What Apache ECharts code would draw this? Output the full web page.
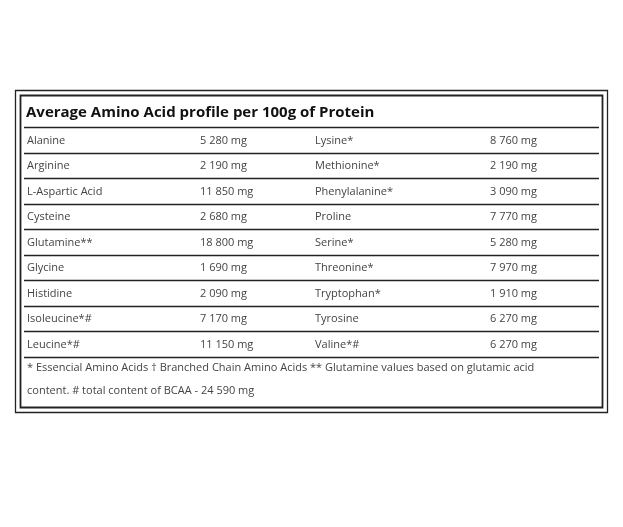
<!DOCTYPE html>
<html><head><meta charset="utf-8">
<script src="https://cdn.jsdelivr.net/npm/echarts@6/dist/echarts.min.js"></script>
<style>html,body{margin:0;background:#fff}#c{width:623px;height:527px}</style>
</head><body><div id="c"></div>
<script>
let title = "Average Amino Acid profile per 100g of Protein"
let leftNames = ["Alanine", "Arginine", "L-Aspartic Acid", "Cysteine", "Glutamine**", "Glycine", "Histidine", "Isoleucine*#", "Leucine*#"]
let leftValues = ["5 280 mg", "2 190 mg", "11 850 mg", "2 680 mg", "18 800 mg", "1 690 mg", "2 090 mg", "7 170 mg", "11 150 mg"]
let rightNames = ["Lysine*", "Methionine*", "Phenylalanine*", "Proline", "Serine*", "Threonine*", "Tryptophan*", "Tyrosine", "Valine*#"]
let rightValues = ["8 760 mg", "2 190 mg", "3 090 mg", "7 770 mg", "5 280 mg", "7 970 mg", "1 910 mg", "6 270 mg", "6 270 mg"]
let footnotes = ["* Essencial Amino Acids † Branched Chain Amino Acids ** Glutamine values based on glutamic acid", "content. # total content of BCAA - 24 590 mg"]

let font = "'Open Sans', 'Noto Sans', sans-serif"
let els = []
// borders
els.push({ type: "rect", shape: { x: 15.5, y: 90.5, width: 592, height: 322 }, style: { fill: null, stroke: "#222", lineWidth: 1.3 } })
els.push({ type: "rect", shape: { x: 20.5, y: 95.5, width: 582, height: 312 }, style: { fill: null, stroke: "#222", lineWidth: 1.8 } })
els.push({ type: "text", x: 26, y: 113, style: { text: title, font: "bold 15px " + font, fill: "#111", textVerticalAlign: "middle" } })

let rowTop = 127, rowH = 25.5
for (let i = 0; i <= leftNames.length; i++) {
  let y = Math.round(rowTop + i * rowH) + 0.5
  els.push({ type: "line", shape: { x1: 24, y1: y, x2: 599, y2: y }, style: { stroke: "#222", lineWidth: 1.3 } })
}
let cols = [[leftNames, 27], [leftValues, 200], [rightNames, 315], [rightValues, 490]]
cols.forEach(function (c) {
  c[0].forEach(function (t, i) {
    els.push({ type: "text", x: c[1], y: rowTop + i * rowH + rowH / 2 + 1, style: { text: t, font: "11px " + font, fill: "#444", textVerticalAlign: "middle" } })
  })
})
footnotes.forEach(function (t, i) {
  els.push({ type: "text", x: 27, y: 368 + i * 23, style: { text: t, font: "11px " + font, fill: "#444", textVerticalAlign: "middle" } })
})

let myChart = echarts.init(document.getElementById("c"))
myChart.setOption({ graphic: { elements: els } })
</script></body></html>
